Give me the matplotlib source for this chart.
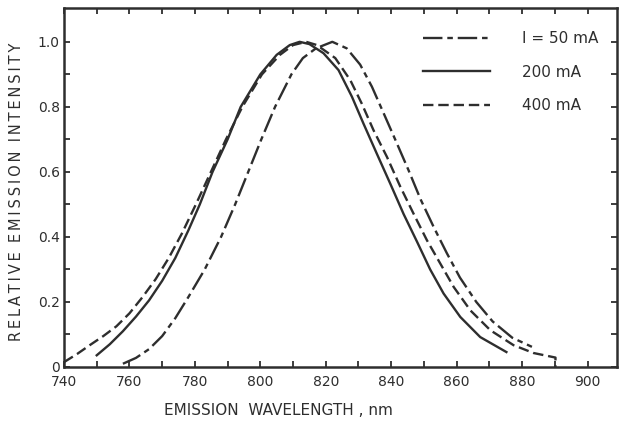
import matplotlib
matplotlib.use("Agg")
import matplotlib.pyplot as plt

plt.rcParams['font.family'] = ['DejaVu Sans']
plt.rcParams['lines.scale_dashes'] = False

# ---- data ----
wl_50 = [758, 762, 766, 770, 774, 778, 783, 788, 792.3, 796.3, 800.3, 804.5,
         809.5, 813, 817, 822, 826.4, 830.5, 834.1, 837.7, 841.2, 845.3, 849,
         853, 857, 861, 866, 871, 877, 883]
val_50 = [0.01, 0.028, 0.055, 0.095, 0.15, 0.215, 0.30, 0.40, 0.50, 0.60, 0.70, 0.80,
          0.90, 0.95, 0.98, 1.00, 0.98, 0.93, 0.862, 0.78, 0.70, 0.605, 0.515,
          0.43, 0.35, 0.275, 0.20, 0.14, 0.09, 0.062]

wl_200 = [750, 754, 758, 762, 766, 770, 774, 778, 781.5, 785.4, 790, 794,
          800, 805, 809, 812, 815, 819.3, 823.9, 828, 831.5, 835.6, 839.7, 843.8,
          847.9, 851.9, 856, 861.1, 867.2, 875.2]
val_200 = [0.036, 0.07, 0.11, 0.155, 0.205, 0.265, 0.335, 0.42, 0.50, 0.60, 0.70, 0.80,
           0.90, 0.96, 0.99, 1.00, 0.993, 0.965, 0.913, 0.831, 0.749, 0.656, 0.564,
           0.47, 0.385, 0.30, 0.226, 0.154, 0.092, 0.046]

wl_400 = [740, 744, 748, 752, 756, 760, 764, 768, 772, 776, 780.3, 784.9, 789.5,
          794.5, 800.5, 806, 810, 814, 817.3, 822.9, 827.5, 831, 834.6, 838.7, 842.8,
          846.8, 850.9, 855, 859.1, 864.2, 870.3, 877.4, 883.5, 890.2, 890.2]
val_400 = [0.015, 0.04, 0.068, 0.095, 0.125, 0.165, 0.215, 0.27, 0.335, 0.41, 0.50,
           0.60, 0.70, 0.80, 0.90, 0.96, 0.99, 1.00, 0.99, 0.95, 0.882, 0.81, 0.728,
           0.646, 0.554, 0.472, 0.39, 0.318, 0.246, 0.174, 0.113, 0.067, 0.043,
           0.029, 0.0]

labels = ["I = 50 mA", "200 mA", "400 mA"]
x_major = [740, 760, 780, 800, 820, 840, 860, 880, 900]
x_minor = [750, 770, 790, 810, 830, 850, 870, 890]
y_major = [0, 0.2, 0.4, 0.6, 0.8, 1.0]
y_major_labels = ["0", "0.2", "0.4", "0.6", "0.8", "1.0"]
y_minor = [0.1, 0.3, 0.5, 0.7, 0.9]

ink = '#2e2e2e'


def spaced(text, sep="\u2009"):
    words = text.split(" ")
    return " ".join(sep.join(w) for w in words)


fig = plt.figure(figsize=(6.2, 4.24), dpi=100)
ax = fig.add_axes([64/620, 1 - 367/424, 553/620, 359/424])

lw = 1.7
ax.plot(wl_50, val_50, color=ink, lw=lw, dashes=(14, 3.5, 4, 3.5), label=labels[0],
        dash_capstyle='butt')
ax.plot(wl_200, val_200, color=ink, lw=lw, label=labels[1])
ax.plot(wl_400, val_400, color=ink, lw=lw, dashes=(7.5, 3.5), label=labels[2],
        dash_capstyle='butt')

ax.set_xlim(740, 909)
ax.set_ylim(0, 1.104)

ax.set_xticks(x_major)
ax.set_xticks(x_minor, minor=True)
ax.set_yticks(y_major)
ax.set_yticklabels(y_major_labels)
ax.set_yticks(y_minor, minor=True)

for which in ('major', 'minor'):
    ax.tick_params(axis='both', which=which, direction='in', length=4.5, width=1.3,
                   color=ink, top=True, right=True)
ax.tick_params(axis='x', which='major', pad=6, labelsize=10, labelcolor=ink)
ax.tick_params(axis='y', which='major', pad=3, labelsize=10, labelcolor=ink)

for s in ax.spines.values():
    s.set_linewidth(1.8)
    s.set_color(ink)

ax.set_xlabel("EMISSION  WAVELENGTH , nm", fontsize=11, color=ink)
ax.xaxis.set_label_coords(0.387, -0.10)
ax.set_ylabel(spaced("RELATIVE  EMISSION  INTENSITY"), fontsize=10.5, color=ink)
ax.yaxis.set_label_coords(-0.072, 0.487)

leg = ax.legend(loc='upper left', bbox_to_anchor=(0.649, 0.935), frameon=False,
                handlelength=4.4, handletextpad=2.1, labelspacing=1.2,
                borderpad=0, borderaxespad=0, fontsize=11)
for t in leg.get_texts():
    t.set_color(ink)

fig.savefig("out.png", dpi=100)
